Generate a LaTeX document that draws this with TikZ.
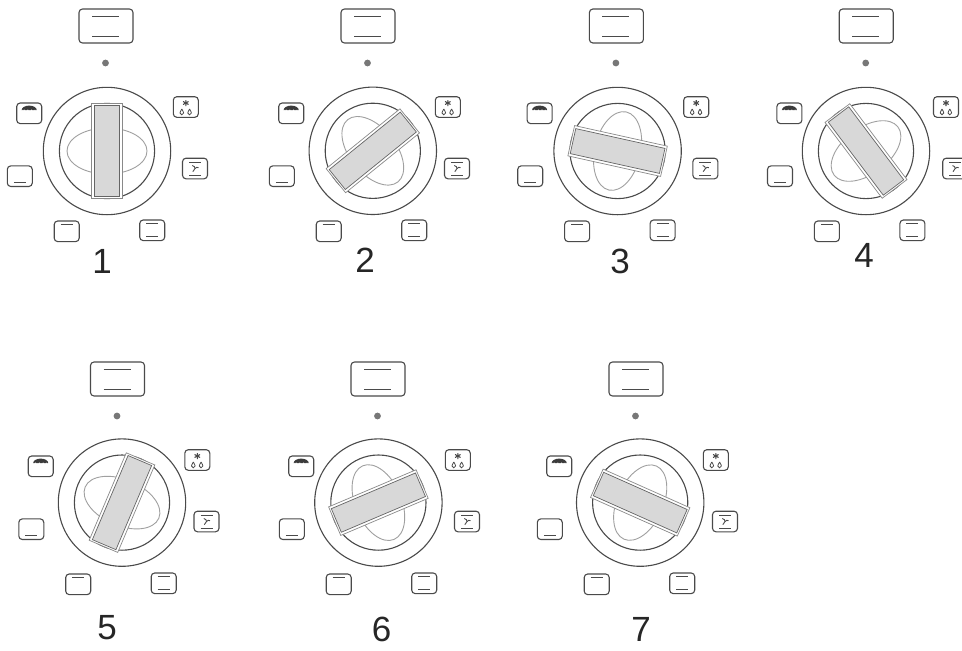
\documentclass[tikz,border=0pt]{standalone}
\usepackage{fontspec}
\setmainfont{Liberation Sans}
\definecolor{ink}{HTML}{4A4A4A}
\definecolor{ovalink}{HTML}{A0A0A0}
\definecolor{barfill}{HTML}{D8D8D8}
\definecolor{dotfill}{HTML}{777777}
\tikzset{
  px/.style={x=1pt,y=-1pt},
  line/.style={draw=ink,line width=1pt},
  btn/.style={draw=ink,line width=1.1pt,rounded corners=3.5pt,fill=white},
  numlabel/.style={font=\fontsize{35}{35}\selectfont,text=black!85,inner sep=0pt,anchor=center}
}
\newcommand{\btnframe}[4]{\draw[btn] (#1-12.5,#2-10.3) rectangle (#1+12.5,#2+10.3);
  \ifnum#3=1 \draw[line] (#1-6,#2-6.5) -- (#1+6,#2-6.5);\fi
  \ifnum#4=1 \draw[line] (#1-6,#2+6.5) -- (#1+6,#2+6.5);\fi}
\newcommand{\drop}[2]{\draw[draw=ink,line width=.8pt] (#1,#2-3) .. controls (#1+.8,#2-1) and (#1+2,#2) .. (#1+1.8,#2+1) arc (0:180:1.8) .. controls (#1-2,#2) and (#1-.8,#2-1) .. (#1,#2-3);}
\newcommand{\dialunit}[5]{%
  \begin{scope}[shift={(#3,#4)}]
    \draw[btn,fill=white] (79,9) rectangle (133,43);
    \draw[line] (92,16) -- (119,16);
    \draw[line] (92,36) -- (119,36);
    \fill[dotfill] (105.5,63) circle (3.4);
    % top left: dome with a beaded edge
    \btnframe{29.2}{113.3}{0}{0}
    \fill[ink!80!black] (21.7,110) arc[start angle=180,end angle=360,x radius=7.5,y radius=4.4] -- cycle;
    \fill[white] (24.2,110.2) circle (.75) (27.9,110.2) circle (.75) (31.6,110.2) circle (.75) (34.9,110.2) circle (.6) (22.4,110.2) circle (.4);
    % top right: asterisk and drops
    \btnframe{185.8}{107}{0}{0}
    \draw[ink,line width=1.1pt] (185.8,100) -- (185.8,106) (183.1,101.5) -- (188.5,104.5) (183.1,104.5) -- (188.5,101.5);
    \drop{181.8}{112}
    \drop{189.6}{112}
    % right: fan with lines
    \btnframe{195}{168.5}{1}{1}
    \draw[ink,line width=.9pt] (192.3,165.5) .. controls (194,166.2) and (195.3,167) .. (195,168.5)
      .. controls (194.8,169.7) and (193.8,170.5) .. (192.8,171.7);
    \draw[ink,line width=.9pt] (195,168.5) .. controls (196,167.2) and (197.5,167) .. (198.5,167.7);
    % left, bottom left, bottom right
    \btnframe{19.8}{176.2}{0}{1}
    \btnframe{66.7}{231.3}{1}{0}
    \btnframe{152.2}{230.3}{1}{1}
  \end{scope}
  \begin{scope}[shift={(#1,#2)}]
    \draw[line,line width=1.1pt] (0,0) circle (63.7);
    \draw[line,line width=1.1pt] (0,0) circle (47.6);
    \draw[ovalink,line width=.9pt,rotate=#5+90] (0,0) ellipse (40 and 23);
    \begin{scope}[rotate=#5]
      \draw[draw=ink!65,line width=.7pt,fill=white] (-47.5,-15.5) rectangle (47.5,15.5);
      \draw[draw=ink!85,line width=.7pt,fill=barfill] (-45.7,-12.8) rectangle (45.7,12.8);
    \end{scope}
  \end{scope}}
\begin{document}
\begin{tikzpicture}[px]
\useasboundingbox (0,0) rectangle (962,651);
\fill[white] (0,0) rectangle (962,651);
\dialunit{107}{151}{0}{0}{90}
\dialunit{372.8}{150.8}{262}{0}{39}
\dialunit{617.6}{151}{510.4}{0}{-12.5}
\dialunit{866}{151}{760.2}{0}{-53}
\dialunit{122}{502.6}{11.5}{353}{67}
\dialunit{378.4}{502.6}{272}{353}{23}
\dialunit{640.2}{502.6}{530}{353}{-24}
\node[numlabel] (n1) at (102,261) {1};
\node[numlabel] (n2) at (365,260) {2};
\node[numlabel] (n3) at (620,261) {3};
\node[numlabel] (n4) at (864,255) {4};
\node[numlabel] (n5) at (107,628) {5};
\node[numlabel] (n6) at (381.5,629) {6};
\node[numlabel] (n7) at (641,629) {7};
\end{tikzpicture}
\end{document}
